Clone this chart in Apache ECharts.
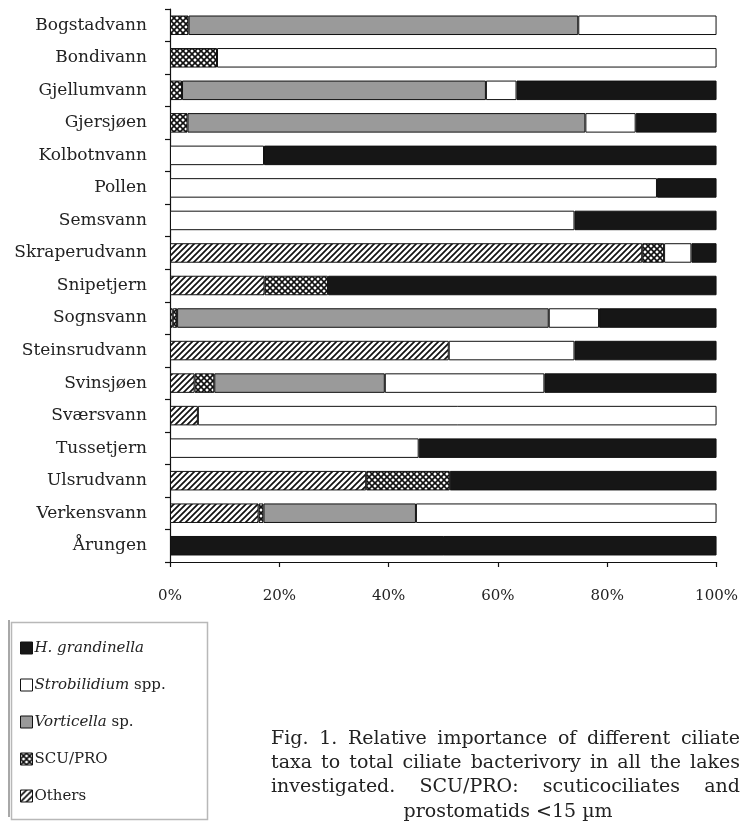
<!DOCTYPE html>
<html>
<head>
<meta charset="utf-8">
<script src="https://cdn.jsdelivr.net/npm/echarts@6/dist/echarts.min.js"></script>
<style>html,body{margin:0;padding:0;background:#fff;}#c{width:741px;height:821px;}</style>
</head>
<body>
<div id="c"></div>
<script>
const categories = ['Bogstadvann','Bondivann','Gjellumvann','Gjersjøen','Kolbotnvann','Pollen','Semsvann','Skraperudvann','Snipetjern','Sognsvann','Steinsrudvann','Svinsjøen','Sværsvann','Tussetjern','Ulsrudvann','Verkensvann','Årungen'];
const others = [0,0,0,0,0,0,0,86.4,17.3,0.5,51,4.5,5.1,0,35.9,16.2,0];
const scuPro = [3.4,8.6,2.2,3.2,0,0,0,4.0,11.6,0.8,0,3.6,0,0,15.3,0.9,0];
const vorticella = [71.3,0,55.6,72.8,0,0,0,0,0,68.0,0,31.2,0,0,0,27.9,0];
const strobilidium = [25.3,91.4,5.6,9.2,17.2,89.1,74.0,5.0,0,9.2,23,29.2,94.9,45.5,0,55,0];
const hGrandinella = [0,0,36.6,14.8,82.8,10.9,26,4.6,71.1,21.5,26,31.5,0,54.5,48.8,0,100];
const xTicks = [0,20,40,60,80,100];
const captionLines = [
  'Fig. 1. Relative importance of different ciliate',
  'taxa to total ciliate bacterivory in all the lakes',
  'investigated. SCU/PRO: scuticociliates and',
  'prostomatids <15 µm'
];

function pattern(size, draw) {
  const c = document.createElement('canvas');
  c.width = size; c.height = size;
  const ctx = c.getContext('2d');
  ctx.fillStyle = '#fff';
  ctx.fillRect(0, 0, size, size);
  ctx.strokeStyle = '#111';
  draw(ctx, size);
  return { image: c, repeat: 'repeat' };
}
function diag(ctx, s) {
  ctx.beginPath();
  ctx.moveTo(0, s); ctx.lineTo(s, 0);
  ctx.moveTo(-1, 1); ctx.lineTo(1, -1);
  ctx.moveTo(s - 1, s + 1); ctx.lineTo(s + 1, s - 1);
  ctx.stroke();
}
const hatchOthers = pattern(6, (ctx, s) => { ctx.lineWidth = 1.7; diag(ctx, s); });
const hatchScu = pattern(6, (ctx, s) => {
  ctx.lineWidth = 1.6; diag(ctx, s);
  ctx.beginPath();
  ctx.moveTo(0, 0); ctx.lineTo(s, s);
  ctx.moveTo(-1, s - 1); ctx.lineTo(1, s + 1);
  ctx.moveTo(s - 1, -1); ctx.lineTo(s + 1, 1);
  ctx.stroke();
});

const seriesDefs = [
  { name: 'Others', data: others, color: hatchOthers },
  { name: 'SCU/PRO', data: scuPro, color: hatchScu },
  { name: 'Vorticella sp.', data: vorticella, color: '#9a9a9a' },
  { name: 'Strobilidium spp.', data: strobilidium, color: '#ffffff' },
  { name: 'H. grandinella', data: hGrandinella, color: '#161616' }
];

const legendText = {
  'H. grandinella': '{i|H. grandinella}',
  'Strobilidium spp.': '{i|Strobilidium} spp.',
  'Vorticella sp.': '{i|Vorticella} sp.',
  'SCU/PRO': 'SCU/PRO',
  'Others': 'Others'
};

// justified caption words
const captionFont = '19px "DejaVu Serif"';
const mctx = document.createElement('canvas').getContext('2d');
mctx.font = captionFont;
const capLeft = 271, capRight = 740;
const capY = [739, 763, 787, 812];
const graphics = [{
  type: 'rect', left: 9, top: 620,
  shape: { width: 196, height: 197 },
  style: { fill: 'none', stroke: '#b8b8b8', lineWidth: 1.5 }
}, {
  type: 'rect', left: 8, top: 620,
  shape: { width: 2, height: 197 },
  style: { fill: '#a8a8a8' }
}];
captionLines.forEach((line, i) => {
  if (i === captionLines.length - 1) {
    graphics.push({ type: 'text', x: 508, y: capY[i],
      style: { text: line, font: captionFont, fill: '#222', align: 'center', verticalAlign: 'middle' } });
    return;
  }
  const words = line.split(' ');
  const widths = words.map(w => mctx.measureText(w).width);
  const total = widths.reduce((a, b) => a + b, 0);
  const gap = (capRight - capLeft - total) / (words.length - 1);
  let x = capLeft;
  words.forEach((w, k) => {
    graphics.push({ type: 'text', x: x, y: capY[i],
      style: { text: w, font: captionFont, fill: '#222', align: 'left', verticalAlign: 'middle' } });
    x += widths[k] + gap;
  });
});

const chart = echarts.init(document.getElementById('c'), null, { renderer: 'canvas' });
chart.setOption({
  animation: false,
  backgroundColor: '#fff',
  grid: { left: 170, right: 23, top: 9, bottom: 259, containLabel: false },
  xAxis: {
    type: 'value', min: 0, max: 100, interval: 20,
    axisLine: { show: true, lineStyle: { color: '#111', width: 1.2 } },
    axisTick: { show: true, length: 5, lineStyle: { color: '#111', width: 1.2 } },
    splitLine: { show: false },
    axisLabel: { margin: 27, color: '#222', fontFamily: 'DejaVu Serif', fontSize: 15,
      formatter: v => (xTicks.indexOf(v) >= 0 ? v + '%' : '') }
  },
  yAxis: {
    type: 'category', data: categories, inverse: true,
    axisLine: { show: true, lineStyle: { color: '#111', width: 1.2 } },
    axisTick: { show: true, length: 5, lineStyle: { color: '#111', width: 1.2 } },
    axisLabel: { margin: 23, color: '#222', fontFamily: 'DejaVu Serif', fontSize: 17 }
  },
  legend: {
    orient: 'vertical', left: 15, top: 635,
    data: ['H. grandinella', 'Strobilidium spp.', 'Vorticella sp.', 'SCU/PRO', 'Others'],
    icon: 'rect', itemWidth: 12, itemHeight: 12, itemGap: 21,
    selectedMode: false,
    formatter: n => legendText[n],
    textStyle: { fontFamily: 'DejaVu Serif', fontSize: 15, color: '#222', lineHeight: 16, padding: [0, 0, 0, -3],
      rich: { i: { fontStyle: 'italic', fontFamily: 'DejaVu Serif', fontSize: 15, color: '#222' } } },
    itemStyle: { borderColor: '#111', borderWidth: 1 }
  },
  graphic: graphics,
  series: seriesDefs.map(s => ({
    name: s.name, type: 'bar', stack: 'total', barWidth: '60%',
    data: s.data.map(v => (v > 0 ? v : '-')),
    itemStyle: { color: s.color, borderColor: '#111', borderWidth: 1 },
    emphasis: { disabled: true }
  }))
});
</script>
</body>
</html>
